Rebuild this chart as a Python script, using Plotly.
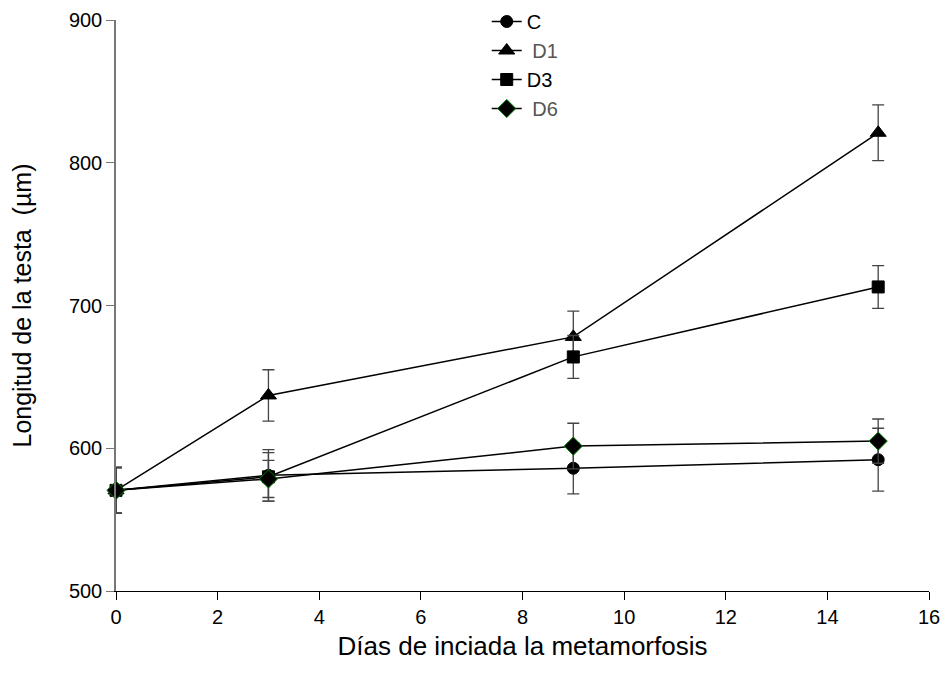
import plotly.graph_objects as go

days = [0, 3, 9, 15]

c_vals = [570.5, 581, 586, 592]
c_err = [16, 18, 18, 22]
d1_vals = [570.5, 637, 678, 821]
d1_err = [16, 18, 18, 19.5]
d3_vals = [570.5, 580, 664, 713]
d3_err = [16, 17, 15, 15]
d6_vals = [570.5, 578.5, 601.5, 605]
d6_err = [16, 13, 16, 15.5]

series = [
    ("C", c_vals, c_err, "circle", 12, "black", "#000000"),
    ("&nbsp;D1", d1_vals, d1_err, "triangle-up", 14, "black", "#555555"),
    ("D3", d3_vals, d3_err, "square", 12, "black", "#000000"),
    ("&nbsp;D6", d6_vals, d6_err, "diamond", 14, "#008000", "#555555"),
]

fig = go.Figure()
for name, vals, errs, sym, size, outline, txtcol in series:
    fig.add_trace(go.Scatter(
        x=days, y=vals,
        mode="lines+markers",
        cliponaxis=False,
        name=f"<span style='color:{txtcol}'>{name}</span>",
        line=dict(color="black", width=1.5),
        marker=dict(symbol=sym, size=size, color="black",
                    line=dict(color=outline, width=1)),
        error_y=dict(type="data", array=errs, visible=True,
                     color="#444444", thickness=1.3, width=6),
    ))

fig.update_layout(
    width=943, height=682,
    margin=dict(l=116, r=14, t=20, b=91, autoexpand=False),
    paper_bgcolor="white", plot_bgcolor="white",
    font=dict(family="Liberation Sans, Arial, sans-serif", size=20, color="black"),
    showlegend=True,
    legend=dict(x=0.456, y=1 - 2 / 682, xanchor="left", yanchor="top",
                yref="container",
                bgcolor="rgba(0,0,0,0)", font=dict(size=20),
                tracegroupgap=0, itemwidth=30),
    xaxis=dict(
        range=[0, 16], tickvals=list(range(0, 17, 2)),
        showgrid=False, zeroline=False, automargin=False,
        showline=True, linecolor="black", linewidth=1,
        ticks="outside", ticklen=8, tickcolor="black",
        tickfont=dict(size=20),
        title=dict(text="Días de inciada la metamorfosis", font=dict(size=26), standoff=9),
    ),
    yaxis=dict(
        range=[500, 900], tickvals=[500, 600, 700, 800, 900],
        showgrid=False, zeroline=False, automargin=False,
        showline=True, linecolor="#777777", linewidth=1.5,
        ticks="outside", ticklen=8, tickcolor="#777777",
        tickfont=dict(size=20),
        title=dict(text="Longitud de la testa  (µm)", font=dict(size=25), standoff=30),
    ),
)

fig.write_html("out.html", config={"displayModeBar": False},
               post_script="document.body.style.margin='0';")
